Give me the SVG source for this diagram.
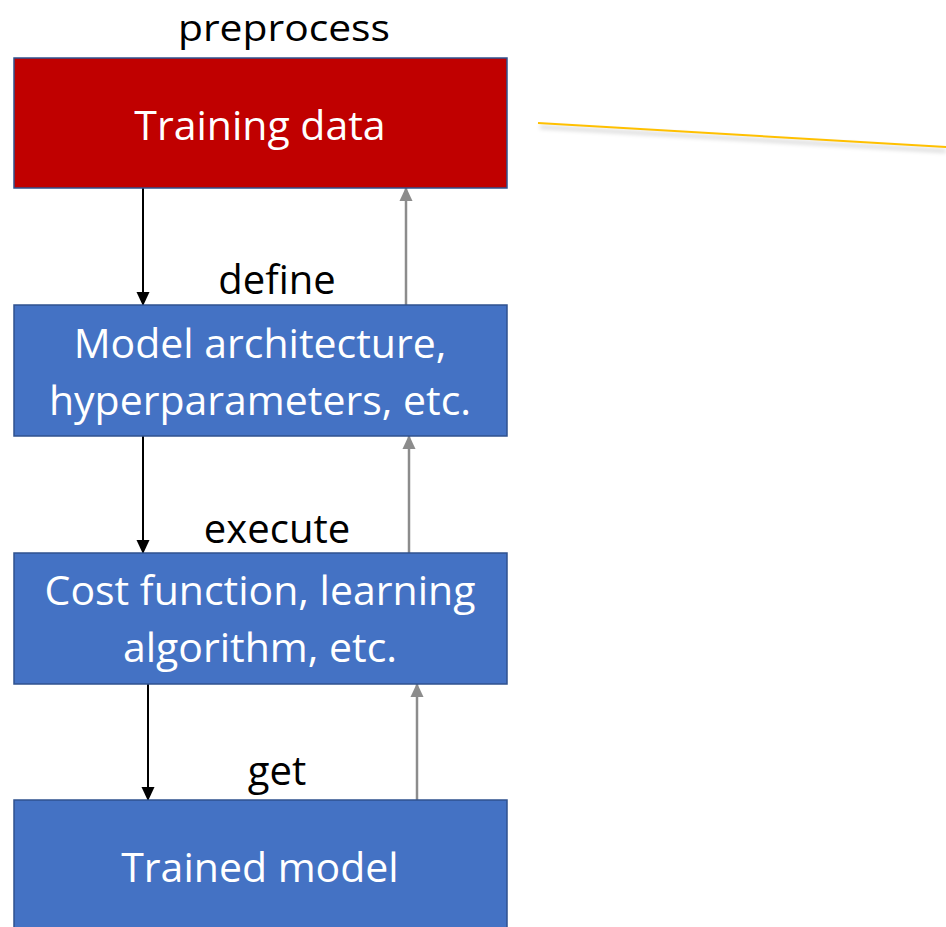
<svg xmlns="http://www.w3.org/2000/svg" width="946" height="927" viewBox="0 0 946 927">
<style>
.box{stroke:#2F528F;stroke-width:1.5}
.blue{fill:#4472C4}
.red{fill:#C00000}
.t{font-family:"Open Sans","Liberation Sans",Arial,sans-serif;font-size:41px;fill:#fff;text-anchor:middle}
.l{font-family:"Open Sans","Liberation Sans",Arial,sans-serif;font-size:40px;fill:#000;text-anchor:middle}
.top{font-size:37px}
.dn{stroke:#000;stroke-width:2;fill:none}
.up{stroke:#8C8C8C;stroke-width:2.5;fill:none}
</style>
<defs>
<marker id="ab" markerWidth="14" markerHeight="14" refX="13" refY="7" orient="auto" markerUnits="userSpaceOnUse" viewBox="0 0 14 14"><path d="M0,0.5 L14,7 L0,13.5 z" fill="#000"/></marker>
<marker id="ag" markerWidth="14" markerHeight="14" refX="13" refY="7" orient="auto" markerUnits="userSpaceOnUse" viewBox="0 0 14 14"><path d="M0,0.5 L14,7 L0,13.5 z" fill="#8C8C8C"/></marker>
<filter id="sh" x="-5%" y="-200%" width="110%" height="500%"><feGaussianBlur stdDeviation="2"/></filter>
</defs>
<rect width="946" height="927" fill="#fff"/>
<g id="yellow-line">
<line x1="540" y1="127" x2="946" y2="151" stroke="#000" stroke-opacity="0.18" stroke-width="3" filter="url(#sh)"/>
<line x1="538" y1="123" x2="946" y2="147" stroke="#FFC000" stroke-width="2"/>
</g>
<g id="connectors">
<line class="dn" x1="143" y1="188" x2="143" y2="305" marker-end="url(#ab)"/>
<line class="up" x1="406" y1="305" x2="406" y2="188" marker-end="url(#ag)"/>
<line class="dn" x1="143" y1="436" x2="143" y2="553" marker-end="url(#ab)"/>
<line class="up" x1="409" y1="553" x2="409" y2="436" marker-end="url(#ag)"/>
<line class="dn" x1="148" y1="684" x2="148" y2="800" marker-end="url(#ab)"/>
<line class="up" x1="417" y1="800" x2="417" y2="684" marker-end="url(#ag)"/>
</g>
<g id="labels">
<text class="l top" x="284" y="41" textLength="212" lengthAdjust="spacingAndGlyphs">preprocess</text>
<text class="l" x="277" y="294">define</text>
<text class="l" x="277" y="543">execute</text>
<text class="l" x="277" y="785">get</text>
</g>
<g id="training-data">
<rect class="box red" x="14" y="58" width="493" height="130"/>
<text class="t" x="260" y="140">Training data</text>
</g>
<g id="model-architecture">
<rect class="box blue" x="14" y="305" width="493" height="131"/>
<text class="t" x="260" y="358">Model architecture,</text>
<text class="t" x="260" y="415">hyperparameters, etc.</text>
</g>
<g id="cost-function">
<rect class="box blue" x="14" y="553" width="493" height="131"/>
<text class="t" x="260" y="605">Cost function, learning</text>
<text class="t" x="260" y="662">algorithm, etc.</text>
</g>
<g id="trained-model">
<rect class="box blue" x="14" y="800" width="493" height="135"/>
<text class="t" x="260" y="882">Trained model</text>
</g>
</svg>
